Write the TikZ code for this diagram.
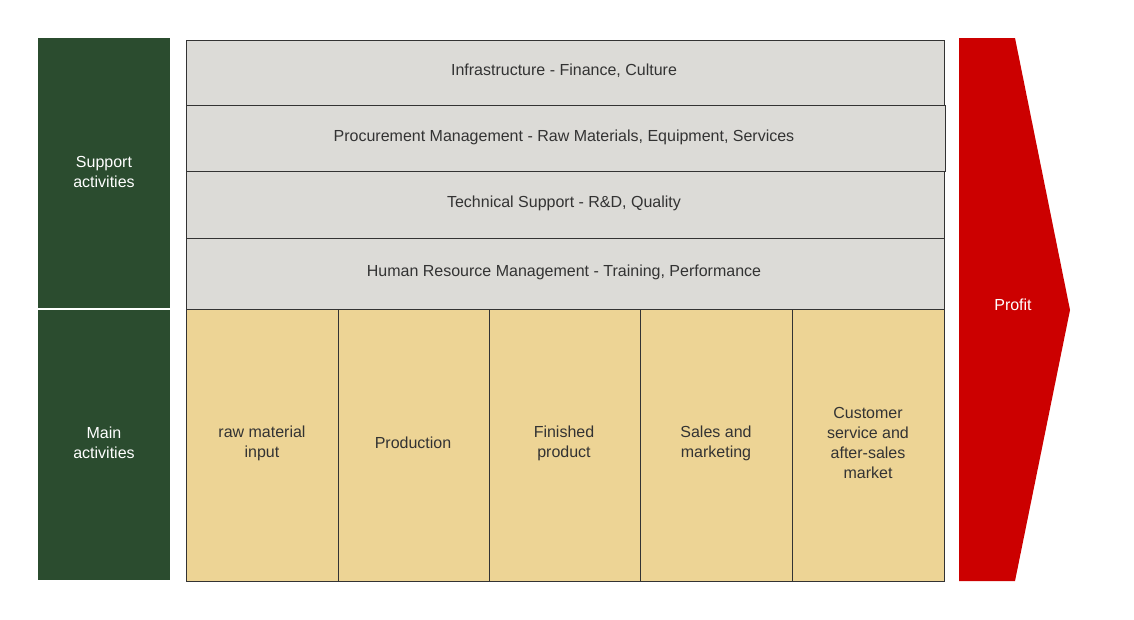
\documentclass[tikz,border=0pt]{standalone}
\usepackage{fontspec}
\setmainfont{Liberation Sans}
\definecolor{dg}{HTML}{2B4C2F}
\definecolor{gr}{HTML}{DCDBD7}
\definecolor{yl}{HTML}{EDD495}
\definecolor{rd}{HTML}{CC0000}
\definecolor{tx}{HTML}{333333}
\begin{document}
\begin{tikzpicture}[x=1pt,y=-1pt,
  lab/.style={font=\fontsize{16}{20}\selectfont,align=center,text=tx},
  side/.style={fill=dg,draw=none},
  row/.style={fill=gr,draw=tx,line width=0.8pt},
  cell/.style={fill=yl,draw=tx,line width=0.8pt}]
\useasboundingbox (0,0) rectangle (1134,619);
\fill[side] (38,38) rectangle (170,308);
\fill[side] (38,310) rectangle (170,580);
\node[lab,text=white] (sa) at (104,172) {Support\\activities};
\node[lab,text=white] (ma) at (104,443) {Main\\activities};
\draw[row] (186,40) rectangle (944,105);
\draw[row] (186,105) rectangle (945,171);
\draw[row] (186,171) rectangle (944,238);
\draw[row] (186,238) rectangle (944,309);
\node[lab] (r1) at (564,71) {Infrastructure - Finance, Culture};
\node[lab] (r2) at (564,137) {Procurement Management - Raw Materials, Equipment, Services};
\node[lab] (r3) at (564,203) {Technical Support - R\&D, Quality};
\node[lab] (r4) at (564,272) {Human Resource Management - Training, Performance};
\draw[cell] (186,309) rectangle (338,581);
\draw[cell] (338,309) rectangle (489,581);
\draw[cell] (489,309) rectangle (640,581);
\draw[cell] (640,309) rectangle (792,581);
\draw[cell] (792,309) rectangle (944,581);
\node[lab] (c1) at (262,443) {raw material\\input};
\node[lab] (c2) at (413,443) {Production};
\node[lab] (c3) at (564,443) {Finished\\product};
\node[lab] (c4) at (716,443) {Sales and\\marketing};
\node[lab] (c5) at (868,443) {Customer\\service and\\after-sales\\market};
\fill[rd] (959,38) -- (1015,38) -- (1070,310) -- (1015,581) -- (959,581) -- cycle;
\node[lab,text=white] (pf) at (1013,305) {Profit};
\end{tikzpicture}
\end{document}
